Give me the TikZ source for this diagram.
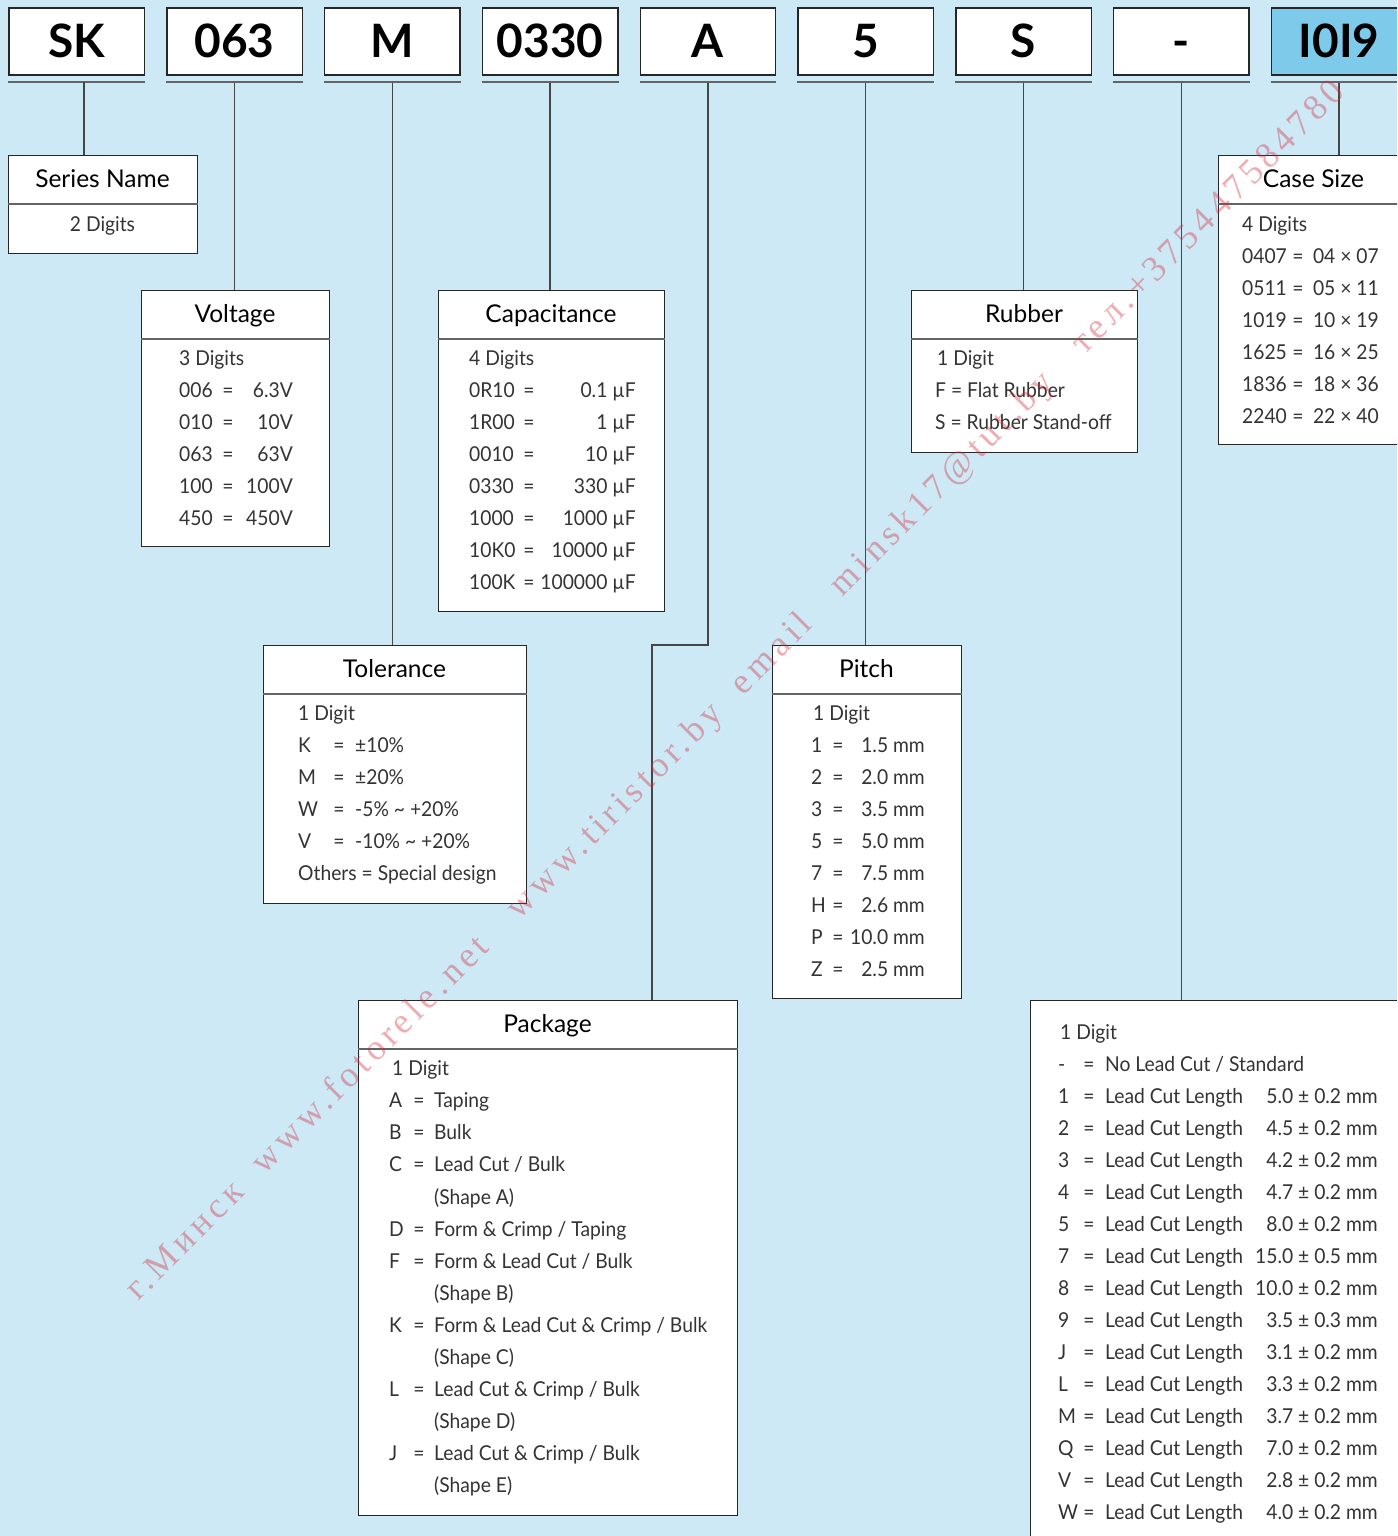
\documentclass[tikz,border=0pt]{standalone}
\usepackage{fontspec}
\setmainfont{Lato}
\newfontfamily\bodyfont[FakeStretch=0.94]{Lato}
\newfontfamily\wmfont[LetterSpace=13]{Liberation Serif}
\definecolor{bgblue}{RGB}{205,233,246}
\definecolor{casefill}{RGB}{126,202,234}
\definecolor{linegray}{RGB}{70,70,70}
\definecolor{sepgray}{RGB}{100,100,100}
\definecolor{wmred}{RGB}{215,40,55}
\newcounter{tn}
\newcommand\tl[3]{\stepcounter{tn}\node[bodytxt,anchor=base west] (t\arabic{tn}) at (#1,#2) {#3};}
\newcommand\tr[3]{\stepcounter{tn}\node[bodytxt,anchor=base east] (t\arabic{tn}) at (#1,#2) {#3};}
\newcommand\tc[3]{\stepcounter{tn}\node[bodytxt,anchor=base] (t\arabic{tn}) at (#1,#2) {#3};}
\begin{document}
\begin{tikzpicture}[x=1pt,y=-1pt,
  codebox/.style={draw=black!85, line width=1.4pt, fill=white, minimum width=135.5pt, minimum height=67pt, inner sep=0pt, text height=33pt, text depth=0pt, font=\fontsize{46}{50}\selectfont\bfseries},
  uline/.style={draw=sepgray, line width=2.2pt},
  conn/.style={draw=linegray, line width=1.4pt},
  dbox/.style={draw=black!85, line width=1.4pt, fill=white, inner sep=0pt, anchor=north west},
  sepline/.style={draw=sepgray, line width=1.8pt},
  headtxt/.style={font=\fontsize{24.5}{28}\selectfont, inner sep=0pt, anchor=base, text=black},
  bodytxt/.style={font=\bodyfont\fontsize{20.5}{25}\selectfont, inner sep=0pt, text=black!80}
]
\useasboundingbox (0,0) rectangle (1397,1536);
\clip (0,0) rectangle (1397,1536);
\fill[bgblue] (0,0) rectangle (1397,1536);

% ---------- code boxes ----------
\node[codebox] (c1) at (76.75,41.5) {SK};
\node[codebox] (c2) at (234.55,41.5) {063};
\node[codebox] (c3) at (392.35,41.5) {M};
\node[codebox] (c4) at (550.15,41.5) {0330};
\node[codebox] (c5) at (707.95,41.5) {A};
\node[codebox] (c6) at (865.75,41.5) {5};
\node[codebox] (c7) at (1023.55,41.5) {S};
\node[codebox] (c8) at (1181.35,41.5) {-};
\node[codebox, fill=casefill] (c9) at (1339.15,41.5) {I0I9};
\foreach \i in {1,...,9}{
  \draw[uline] ([yshift=-6pt]c\i.south west) -- ([yshift=-6pt]c\i.south east);
}

% ---------- detail boxes ----------
\node[dbox, minimum width=189pt, minimum height=98pt] (ser) at (8,155) {};
\node[dbox, minimum width=188pt, minimum height=256pt] (vol) at (141,290) {};
\node[dbox, minimum width=226pt, minimum height=321pt] (cap) at (438,290) {};
\node[dbox, minimum width=263pt, minimum height=258pt] (tol) at (263,645) {};
\node[dbox, minimum width=379pt, minimum height=515pt] (pkg) at (358,1000) {};
\node[dbox, minimum width=189pt, minimum height=353pt] (pit) at (772,645) {};
\node[dbox, minimum width=226pt, minimum height=162pt] (rub) at (911,290) {};
\node[dbox, minimum width=400pt, minimum height=580pt] (lcb) at (1030,1000) {};
\node[dbox, minimum width=191pt, minimum height=289pt] (cs) at (1218,155) {};
\foreach \b in {ser,vol,cap,tol,pkg,pit,rub,cs}{
  \draw[sepline] ([yshift=-49pt]\b.north west) -- ([yshift=-49pt]\b.north east);
}

% ---------- connectors ----------
\coordinate (u1) at (84,82);
\draw[conn] (u1) -- (u1 |- ser.north);
\draw[conn] ([yshift=-7pt]c2.south) -- (c2.south |- vol.north);
\draw[conn] ([yshift=-7pt]c3.south) -- (c3.south |- tol.north);
\draw[conn] ([yshift=-7pt]c4.south) -- (c4.south |- cap.north);
\coordinate (k5) at (652,645);
\draw[conn] ([yshift=-7pt]c5.south) -- (c5.south |- k5) -- (k5) -- (k5 |- pkg.north);
\draw[conn] ([yshift=-7pt]c6.south) -- (c6.south |- pit.north);
\draw[conn] ([yshift=-7pt]c7.south) -- (c7.south |- rub.north);
\draw[conn] ([yshift=-7pt]c8.south) -- (c8.south |- lcb.north);
\draw[conn] ([yshift=-7pt]c9.south) -- (c9.south |- cs.north);

% ---------- headers ----------
\node[headtxt] (hser) at (102.5,187) {Series Name};
\node[headtxt] (hvol) at (235,322) {Voltage};
\node[headtxt] (hcap) at (551,322) {Capacitance};
\node[headtxt] (htol) at (394.5,677) {Tolerance};
\node[headtxt] (hpkg) at (547.5,1032) {Package};
\node[headtxt] (hpit) at (866.5,677) {Pitch};
\node[headtxt] (hrub) at (1024,322) {Rubber};
\node[headtxt] (hcs) at (1313.5,187) {Case Size};

% ---------- Series ----------
\tc{102.5}{231}{2 Digits}

% ---------- Voltage ----------
\tl{179}{365}{3 Digits}
\foreach \c/\v [count=\k] in {006/6.3V,010/10V,063/63V,100/100V,450/450V}{
  \pgfmathsetmacro\yy{365+32*\k}
  \tl{179}{\yy}{\c}\tc{228}{\yy}{=}\tr{293}{\yy}{\v}
}

% ---------- Capacitance ----------
\tl{469}{365}{4 Digits}
\foreach \c/\v [count=\k] in {0R10/0.1 µF,1R00/1 µF,0010/10 µF,0330/330 µF,1000/1000 µF,10K0/10000 µF,100K/100000 µF}{
  \pgfmathsetmacro\yy{365+32*\k}
  \tl{469}{\yy}{\c}\tc{529}{\yy}{=}\tr{636}{\yy}{\v}
}

% ---------- Tolerance ----------
\tl{298}{720}{1 Digit}
\foreach \c/\v [count=\k] in {K/±10\%,M/±20\%,W/-5\% \textasciitilde{} +20\%,V/-10\% \textasciitilde{} +20\%}{
  \pgfmathsetmacro\yy{720+32*\k}
  \tl{298}{\yy}{\c}\tc{339}{\yy}{=}\tl{355}{\yy}{\v}
}
\tl{298}{880}{Others = Special design}

% ---------- Pitch ----------
\tl{813}{720}{1 Digit}
\foreach \c/\v [count=\k] in {1/1.5 mm,2/2.0 mm,3/3.5 mm,5/5.0 mm,7/7.5 mm,H/2.6 mm,P/10.0 mm,Z/2.5 mm}{
  \pgfmathsetmacro\yy{720+32*\k}
  \tl{811}{\yy}{\c}\tc{838}{\yy}{=}\tr{925}{\yy}{\v}
}

% ---------- Rubber ----------
\tl{937}{365}{1 Digit}
\tl{935}{397}{F = Flat Rubber}
\tl{935}{429}{S = Rubber Stand-off}

% ---------- Case Size ----------
\tl{1242}{231}{4 Digits}
\foreach \c/\v [count=\k] in {0407/04 × 07,0511/05 × 11,1019/10 × 19,1625/16 × 25,1836/18 × 36,2240/22 × 40}{
  \pgfmathsetmacro\yy{231+32*\k}
  \tl{1242}{\yy}{\c}\tc{1298}{\yy}{=}\tr{1379}{\yy}{\v}
}

% ---------- Package ----------
\tl{392}{1075}{1 Digit}
\tl{389}{1107}{A}\tc{419}{1107}{=}\tl{434}{1107}{Taping}
\tl{389}{1139}{B}\tc{419}{1139}{=}\tl{434}{1139}{Bulk}
\tl{389}{1171}{C}\tc{419}{1171}{=}\tl{434}{1171}{Lead Cut / Bulk}
\tl{434}{1204}{(Shape A)}
\tl{389}{1236}{D}\tc{419}{1236}{=}\tl{434}{1236}{Form \& Crimp / Taping}
\tl{389}{1268}{F}\tc{419}{1268}{=}\tl{434}{1268}{Form \& Lead Cut / Bulk}
\tl{434}{1300}{(Shape B)}
\tl{389}{1332}{K}\tc{419}{1332}{=}\tl{434}{1332}{Form \& Lead Cut \& Crimp / Bulk}
\tl{434}{1364}{(Shape C)}
\tl{389}{1396}{L}\tc{419}{1396}{=}\tl{434}{1396}{Lead Cut \& Crimp / Bulk}
\tl{434}{1428}{(Shape D)}
\tl{389}{1460}{J}\tc{419}{1460}{=}\tl{434}{1460}{Lead Cut \& Crimp / Bulk}
\tl{434}{1492}{(Shape E)}

% ---------- Lead cut ----------
\tl{1060}{1039}{1 Digit}
\tl{1058}{1071}{-}\tc{1089}{1071}{=}\tl{1105}{1071}{No Lead Cut / Standard}
\foreach \c/\v [count=\k] in {1/5.0 ± 0.2 mm,2/4.5 ± 0.2 mm,3/4.2 ± 0.2 mm,4/4.7 ± 0.2 mm,5/8.0 ± 0.2 mm,7/15.0 ± 0.5 mm,8/10.0 ± 0.2 mm,9/3.5 ± 0.3 mm,J/3.1 ± 0.2 mm,L/3.3 ± 0.2 mm,M/3.7 ± 0.2 mm,Q/7.0 ± 0.2 mm,V/2.8 ± 0.2 mm,W/4.0 ± 0.2 mm}{
  \pgfmathsetmacro\yy{1071+32*\k}
  \tl{1058}{\yy}{\c}\tc{1089}{\yy}{=}\tl{1105}{\yy}{Lead Cut Length}\tr{1378}{\yy}{\v}
}

% ---------- watermark ----------
\node[anchor=base west, rotate=45, inner sep=0pt, text=wmred, text opacity=0.38, font=\wmfont\fontsize{36}{40}\selectfont] (wm) at (138,1302) {г.Минск\ \ www.fotorele.net\ \ \ www.tiristor.by\ \ email\ \ \ minsk17@tut.by\ \ \ тел.+375447584780};
\end{tikzpicture}
\end{document}
